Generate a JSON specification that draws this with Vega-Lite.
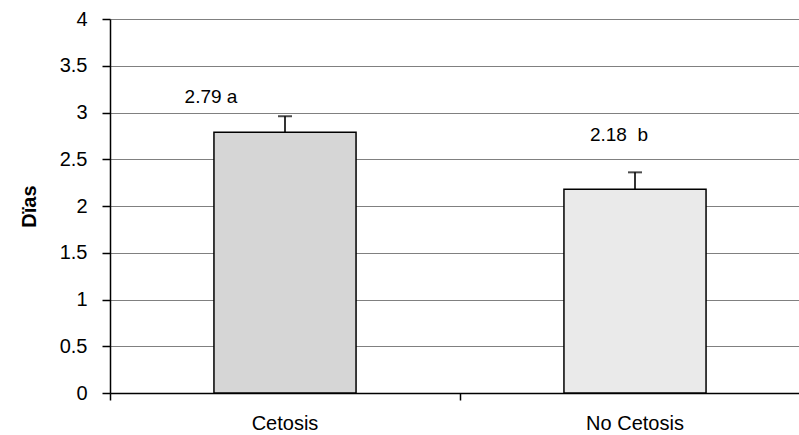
{
  "$schema": "https://vega.github.io/schema/vega-lite/v6.json",
  "autosize": {"type": "none"},
  "padding": {"left": 110, "top": 19, "right": 0, "bottom": 42},
  "width": 689,
  "height": 374,
  "background": "white",
  "config": {
    "view": {"stroke": null},
    "font": "Liberation Sans"
  },
  "data": {
    "values": [
      {"Grupo": "Cetosis", "Dias": 2.79, "sup": 2.96, "label": "2.79 a"},
      {"Grupo": "No Cetosis", "Dias": 2.18, "sup": 2.36, "label": "2.18\u00a0 b"}
    ]
  },
  "encoding": {
    "x": {
      "field": "Grupo",
      "type": "nominal",
      "sort": null,
      "scale": {"range": [0, 700], "paddingInner": 0.594, "paddingOuter": 0.297},
      "axis": {
        "title": null,
        "labelAngle": 0,
        "labelFontSize": 20,
        "labelColor": "black",
        "labelPadding": 13,
        "bandPosition": -0.7315,
        "tickColor": "black",
        "tickSize": 7,
        "tickWidth": 1.5,
        "domainColor": "black",
        "domainWidth": 1.5,
        "grid": false
      }
    }
  },
  "layer": [
    {
      "mark": {"type": "bar", "stroke": "black", "strokeWidth": 1.5},
      "encoding": {
        "y": {
          "field": "Dias",
          "type": "quantitative",
          "scale": {"domain": [0, 4], "nice": false},
          "axis": {
            "title": "Dïas",
            "titleFontSize": 20,
            "titleFontWeight": "bold",
            "titleColor": "black",
            "titlePadding": 20,
            "values": [0, 0.5, 1, 1.5, 2, 2.5, 3, 3.5, 4],
            "labelExpr": "datum.value",
            "labelFontSize": 20,
            "labelColor": "black",
            "labelPadding": 15,
            "tickSize": 8,
            "tickColor": "black",
            "tickWidth": 1.5,
            "domainColor": "black",
            "domainWidth": 1.5,
            "grid": true,
            "gridColor": "#808080",
            "gridWidth": 1.2
          }
        },
        "color": {
          "field": "Grupo",
          "type": "nominal",
          "scale": {"domain": ["Cetosis", "No Cetosis"], "range": ["#d6d6d6", "#eaeaea"]},
          "legend": null
        }
      }
    },
    {
      "mark": {"type": "rule", "color": "black", "strokeWidth": 1.6},
      "encoding": {
        "y": {"field": "Dias", "type": "quantitative"},
        "y2": {"field": "sup"}
      }
    },
    {
      "mark": {"type": "tick", "color": "black", "size": 14, "thickness": 2},
      "encoding": {
        "y": {"field": "sup", "type": "quantitative"}
      }
    },
    {
      "transform": [{"filter": "datum.Grupo === 'Cetosis'"}],
      "mark": {"type": "text", "fontSize": 19, "color": "black", "baseline": "alphabetic", "dx": -74, "dy": -13},
      "encoding": {
        "y": {"field": "sup", "type": "quantitative"},
        "text": {"field": "label"}
      }
    },
    {
      "transform": [{"filter": "datum.Grupo === 'No Cetosis'"}],
      "mark": {"type": "text", "fontSize": 19, "color": "black", "baseline": "alphabetic", "dx": -16, "dy": -31},
      "encoding": {
        "y": {"field": "sup", "type": "quantitative"},
        "text": {"field": "label"}
      }
    }
  ]
}
